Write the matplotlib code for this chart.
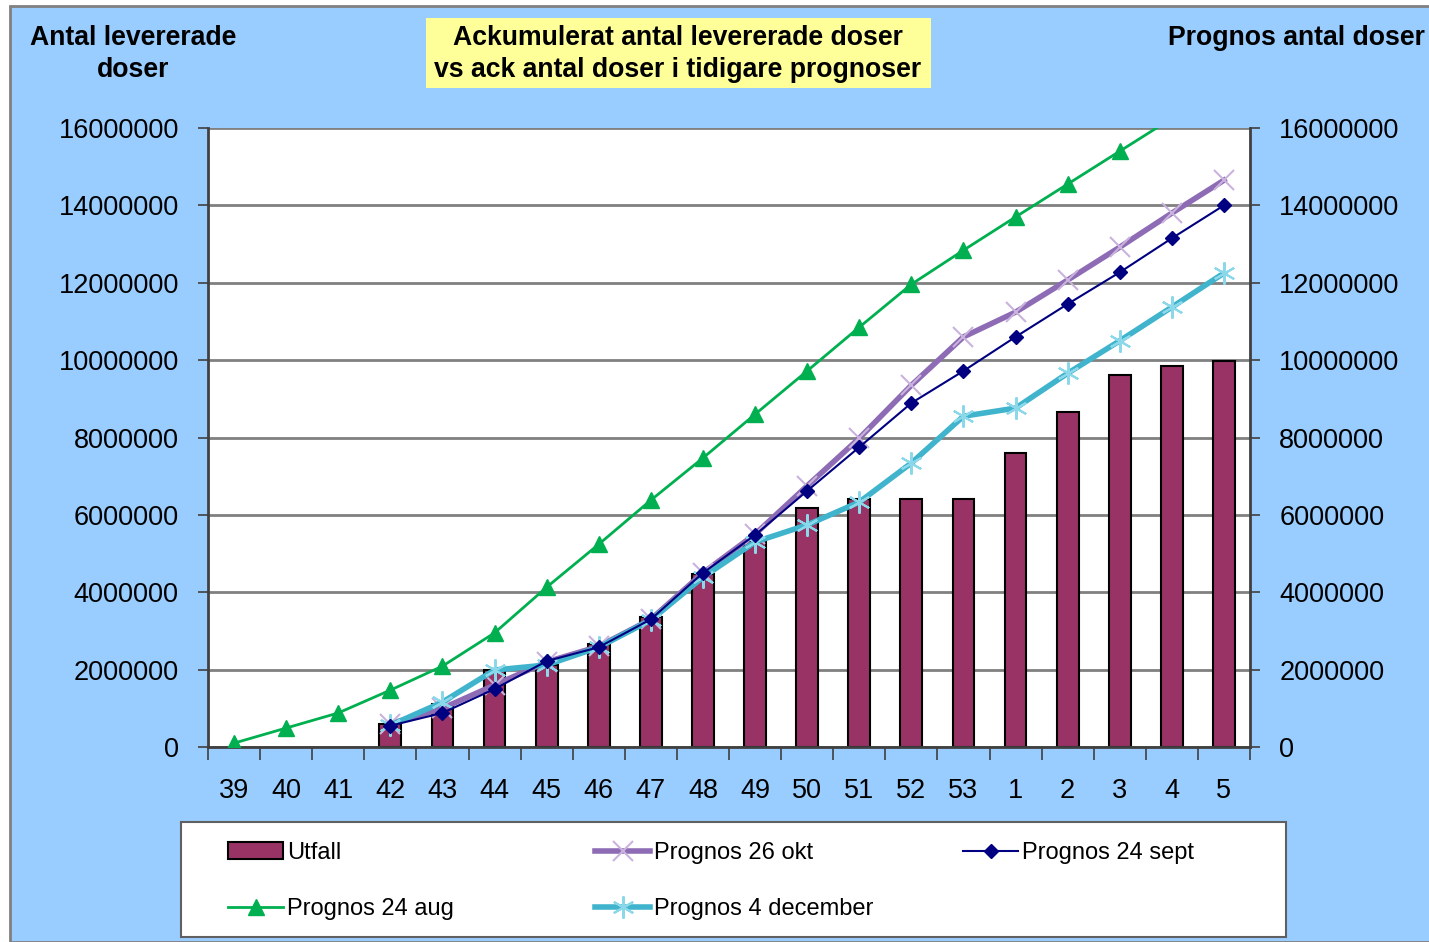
import numpy as np
import matplotlib
matplotlib.use("Agg")
import matplotlib.pyplot as plt
from matplotlib.patches import Rectangle

plt.rcParams['font.family'] = ['Liberation Sans', 'DejaVu Sans']

weeks = ['39', '40', '41', '42', '43', '44', '45', '46', '47', '48',
         '49', '50', '51', '52', '53', '1', '2', '3', '4', '5']

nan = np.nan
# Ackumulerat antal levererade doser (Utfall)
utfall = [nan, nan, nan, 600000, 1110000, 2000000, 2120000, 2660000, 3360000, 4470000,
          5320000, 6180000, 6410000, 6410000, 6410000, 7600000, 8660000, 9610000, 9840000, 9970000]
prognos_24_aug = [100000, 490000, 880000, 1470000, 2090000, 2950000, 4130000, 5240000, 6380000, 7470000,
                  8600000, 9720000, 10850000, 11960000, 12840000, 13700000, 14550000, 15400000, 16250000, 17100000]
prognos_26_okt = [nan, nan, nan, 600000, 1000000, 1600000, 2200000, 2600000, 3300000, 4500000,
                  5500000, 6750000, 7980000, 9350000, 10600000, 11240000, 12070000, 12920000, 13800000, 14650000]
prognos_24_sept = [nan, nan, nan, 550000, 880000, 1500000, 2220000, 2580000, 3300000, 4500000,
                   5480000, 6620000, 7750000, 8890000, 9720000, 10600000, 11450000, 12270000, 13150000, 14000000]
prognos_4_dec = [nan, nan, nan, 560000, 1160000, 1990000, 2120000, 2580000, 3280000, 4390000,
                 5300000, 5740000, 6330000, 7340000, 8550000, 8760000, 9660000, 10500000, 11370000, 12250000]

W, H = 1429, 942
fig = plt.figure(figsize=(W / 100, H / 100), dpi=100, facecolor='white')

# blue chart area with grey frame
fig.patches.append(Rectangle((10 / W, 0), 1 - 10 / W + 0.01, 1 - 6 / H,
                             transform=fig.transFigure, facecolor='#99CCFF',
                             edgecolor='#808080', linewidth=2, zorder=-2))

ax = fig.add_axes([208 / W, 1 - 747 / H, (1250 - 208) / W, (747 - 128) / H])
ax.set_facecolor('white')
x = np.arange(len(weeks))

ax.set_axisbelow(True)
ax.yaxis.grid(True, color='#808080', linewidth=2)

ax.bar(x, utfall, width=0.42, color='#993366', edgecolor='black', linewidth=1.5,
       label='Utfall', zorder=2)
ax.plot(x, prognos_24_aug, color='#00B050', linewidth=2, marker='^', markersize=11,
        label='Prognos 24 aug', zorder=3)
ax.plot(x, prognos_26_okt, color='#8E6BB5', linewidth=4, marker='x', markersize=14,
        markeredgecolor='#C9B3DD', markeredgewidth=1.5, label='Prognos 26 okt', zorder=3)
ax.plot(x, prognos_4_dec, color='#40B4CC', linewidth=4, marker=(6, 2, 0), markersize=16,
        markeredgecolor='#8AD8EA', markeredgewidth=1.5, label='Prognos 4 december', zorder=4)
ax.plot(x, prognos_24_sept, color='#000080', linewidth=1.5, marker='D', markersize=7,
        label='Prognos 24 sept', zorder=5)

ax.set_xlim(-0.5, len(weeks) - 0.5)
ax.set_ylim(0, 16000000)
yt = np.arange(0, 16000001, 2000000)
ax.set_yticks(yt)
ax.set_yticklabels([str(v) for v in yt], fontsize=19.5)
ax.set_xticks(x)
ax.set_xticklabels(weeks, fontsize=19.5)
ax.set_xticks(np.arange(-0.5, len(weeks), 1), minor=True)
ax.tick_params(axis='x', which='major', length=0, pad=22)
ax.tick_params(axis='x', which='minor', length=9, width=1.2, color='#404040', direction='out')
ax.tick_params(axis='y', length=7, width=1.2, color='#404040', direction='out', pad=14)

for side in ['top', 'right']:
    ax.spines[side].set_visible(False)
ax.spines['left'].set_color('#404040')
ax.spines['left'].set_linewidth(2)
ax.spines['bottom'].set_color('#404040')
ax.spines['bottom'].set_linewidth(2)

ax2 = ax.twinx()
ax2.set_ylim(ax.get_ylim())
ax2.set_yticks(yt)
ax2.set_yticklabels([str(v) for v in yt], fontsize=19.5)
ax2.tick_params(axis='y', length=7, width=1.2, color='#404040', direction='out', pad=14)
for side in ['top', 'left', 'bottom']:
    ax2.spines[side].set_visible(False)
ax2.spines['right'].set_color('#404040')
ax2.spines['right'].set_linewidth(2)

# axis titles
fig.text(133 / W, 1 - 54 / H, 'Antal levererade\ndoser', ha='center', va='center',
         fontsize=19.2, fontweight='bold', linespacing=1.28)
fig.text(1425 / W, 1 - 38 / H, 'Prognos antal doser', ha='right', va='center',
         fontsize=19.2, fontweight='bold')

# title in yellow box
fig.patches.append(Rectangle((426 / W, 1 - 88 / H), (931 - 426) / W, 70 / H,
                             transform=fig.transFigure, facecolor='#FFFF99',
                             edgecolor='none', zorder=-1))
fig.text(678 / W, 1 - 54 / H, 'Ackumulerat antal levererade doser\nvs ack antal doser i tidigare prognoser',
         ha='center', va='center', fontsize=19.2, fontweight='bold', linespacing=1.28)

# legend: white frame + three single-column legends
fig.patches.append(Rectangle((181 / W, 1 - 937 / H), (1286 - 181) / W, (937 - 822) / H,
                             transform=fig.transFigure, facecolor='white',
                             edgecolor='#606060', linewidth=1.5, zorder=-1))
handles, labels = ax.get_legend_handles_labels()
hmap = dict(zip(labels, handles))
columns = [(228, ['Utfall', 'Prognos 24 aug']),
           (595, ['Prognos 26 okt', 'Prognos 4 december']),
           (963, ['Prognos 24 sept'])]
for xpos, names in columns:
    lg = fig.legend([hmap[k] for k in names], names, loc='upper left',
                    bbox_to_anchor=(xpos / W, 1 - 842 / H), borderaxespad=0,
                    borderpad=0, fontsize=17, frameon=False,
                    handlelength=2.35, handletextpad=0.15, labelspacing=1.45)

fig.savefig('out.png', dpi=100, facecolor=fig.get_facecolor())
